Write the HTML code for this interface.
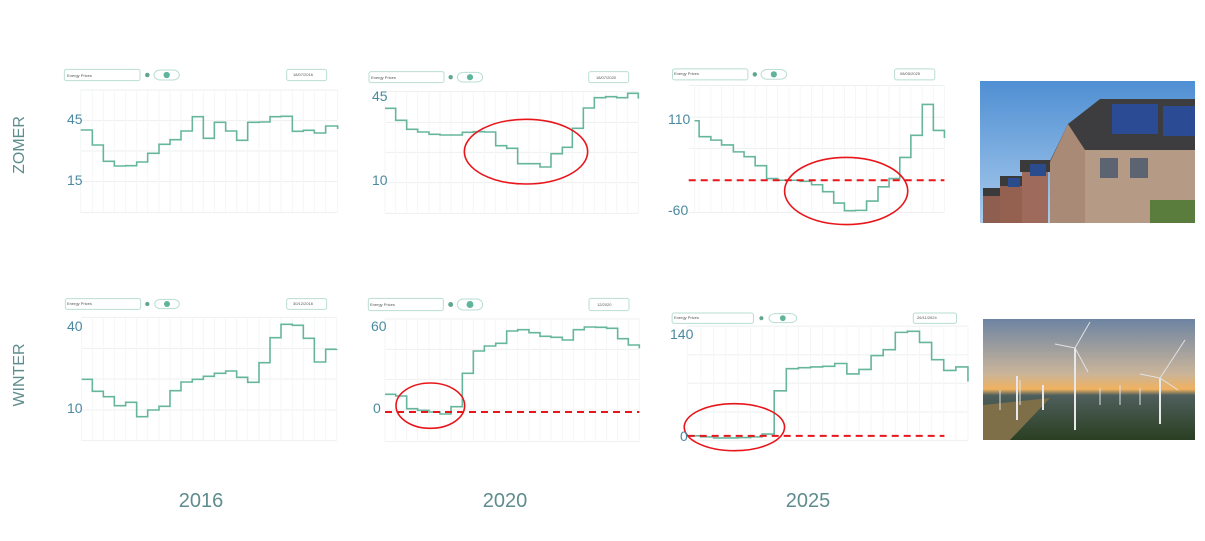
<!DOCTYPE html>
<html><head><meta charset="utf-8"><style>
html,body{margin:0;padding:0;background:#fff;width:1205px;height:541px;overflow:hidden}
svg{position:absolute;left:0;top:0}
text{font-family:"Liberation Sans",sans-serif}
</style></head><body>
<svg id="s" width="1205" height="541" viewBox="0 0 1205 541" xmlns="http://www.w3.org/2000/svg">
<defs>
<linearGradient id="sky" x1="0" y1="0" x2="0" y2="1"><stop offset="0" stop-color="#4f8fd3"/><stop offset="1" stop-color="#a9cbec"/></linearGradient>
<linearGradient id="sun" x1="0" y1="0" x2="0" y2="1"><stop offset="0" stop-color="#6d84a2"/><stop offset="0.45" stop-color="#c9b49a"/><stop offset="0.58" stop-color="#f1b25f"/><stop offset="0.63" stop-color="#4f5f5c"/><stop offset="1" stop-color="#2a3f22"/></linearGradient>
</defs>
<g id="charts"></g>
<text x="24" y="145" transform="rotate(-90 24 145)" text-anchor="middle" font-size="16" fill="#5f8c8e">ZOMER</text>
<text x="24" y="375" transform="rotate(-90 24 375)" text-anchor="middle" font-size="16" fill="#5f8c8e">WINTER</text>
<text x="201" y="507" text-anchor="middle" font-size="20" fill="#5f8c8e">2016</text>
<text x="505" y="507" text-anchor="middle" font-size="20" fill="#5f8c8e">2020</text>
<text x="808" y="507" text-anchor="middle" font-size="20" fill="#5f8c8e">2025</text>
<g font-size="14" fill="#4a8aa0">
<text x="67" y="124">45</text><text x="67" y="185">15</text>
<text x="372" y="101">45</text><text x="372" y="185">10</text>
<text x="668" y="124">110</text><text x="668" y="215">-60</text>
<text x="67" y="331">40</text><text x="67" y="413">10</text>
<text x="371" y="331">60</text><text x="373" y="413">0</text>
<text x="670" y="339">140</text><text x="680" y="441">0</text>
</g>
<g font-size="4" fill="#555">
<text x="67" y="77">Energy Prices</text><text x="293" y="76">18/07/2016</text>
<text x="371" y="79">Energy Prices</text><text x="596" y="79">18/07/2020</text>
<text x="674" y="75">Energy Prices</text><text x="900" y="75">08/05/2025</text>
<text x="67" y="305">Energy Prices</text><text x="293" y="305">30/12/2016</text>
<text x="370" y="306">Energy Prices</text><text x="597" y="306">12/2020</text>
<text x="674" y="319">Energy Prices</text><text x="917" y="319">26/11/2024</text>
</g>
<!-- solar photo -->
<g>
<rect x="980" y="81" width="215" height="142" fill="url(#sky)"/>
<polygon points="1050,223 1050,160 1075,125 1195,125 1195,223" fill="#b59a86"/>
<polygon points="1048,165 1068,124 1100,99 1195,99 1195,150 1085,150 1060,168" fill="#3d3d3f"/>
<polygon points="1068,124 1085,150 1085,223 1050,223 1050,162" fill="#a98a76"/>
<rect x="1112" y="104" width="46" height="30" fill="#2b4b95"/>
<rect x="1163" y="106" width="32" height="30" fill="#2b4b95"/>
<rect x="1100" y="158" width="18" height="20" fill="#5b6470"/><rect x="1130" y="158" width="18" height="20" fill="#5b6470"/>
<polygon points="1022,223 1022,165 1048,165 1048,223" fill="#9e6a5b"/>
<rect x="1020" y="160" width="30" height="12" fill="#3a3a3a"/>
<rect x="1030" y="164" width="16" height="12" fill="#2a4c8c"/>
<rect x="1000" y="180" width="22" height="43" fill="#94604f"/>
<rect x="1000" y="176" width="22" height="10" fill="#3a3a3a"/>
<rect x="1008" y="178" width="12" height="9" fill="#2a4c8c"/>
<rect x="983" y="192" width="17" height="31" fill="#8e5e50"/>
<rect x="983" y="188" width="17" height="8" fill="#3a3a3a"/>
<rect x="1150" y="200" width="45" height="23" fill="#5a7d3e"/>
</g>
<!-- wind photo -->
<g>
<rect x="983" y="319" width="212" height="121" fill="url(#sun)"/>
<polygon points="983,405 1050,398 1010,440 983,440" fill="#7e6f48"/>
<g stroke="#e8e8ea" stroke-width="2">
<line x1="1075" y1="348" x2="1075" y2="430"/><line x1="1160" y1="378" x2="1160" y2="424"/>
<line x1="1017" y1="376" x2="1017" y2="420"/><line x1="1043" y1="385" x2="1043" y2="410"/>
</g>
<g stroke="#dfe2e6" stroke-width="1">
<line x1="1075" y1="348" x2="1055" y2="344"/><line x1="1075" y1="348" x2="1090" y2="322"/><line x1="1075" y1="348" x2="1088" y2="372"/>
<line x1="1160" y1="378" x2="1140" y2="374"/><line x1="1160" y1="378" x2="1185" y2="340"/><line x1="1160" y1="378" x2="1178" y2="390"/>
<line x1="1000" y1="390" x2="1000" y2="410"/><line x1="1020" y1="380" x2="1020" y2="405"/><line x1="1100" y1="388" x2="1100" y2="405"/><line x1="1120" y1="385" x2="1120" y2="405"/><line x1="1140" y1="388" x2="1140" y2="405"/>
</g>
</g>
</svg>
<script>
var NS="http://www.w3.org/2000/svg",G=document.getElementById("charts");
function el(p,t,a){var e=document.createElementNS(NS,t);for(var k in a)e.setAttribute(k,a[k]);p.appendChild(e);return e}
function chart(o){
 var g=el(G,"g",{transform:"translate("+o.ox+","+o.oy+") scale("+o.s+")"});
 var ns={"vector-effect":"non-scaling-stroke"};
 o.gy.forEach(function(y){el(g,"line",Object.assign({x1:o.x0,x2:o.x1,y1:y,y2:y,stroke:"#eef0f0","stroke-width":1},ns))});
 o.xs.forEach(function(x){el(g,"line",Object.assign({x1:x,x2:x,y1:o.gy[0],y2:o.gy[o.gy.length-1],stroke:"#f5f6f6","stroke-width":1},ns))});
 var t=o.tb;
 el(g,"rect",Object.assign({x:t[0],y:t[1],width:t[2]-t[0],height:t[3]-t[1],rx:6,fill:"#fff",stroke:"#b9ded3","stroke-width":1},ns));
 el(g,"circle",{cx:t[4],cy:(t[1]+t[3])/2,r:(t[3]-t[1])*0.2,fill:"#5fa88f"});
 el(g,"rect",Object.assign({x:t[5],y:t[1]+2,width:t[6]-t[5],height:t[3]-t[1]-4,rx:18,fill:"#fff",stroke:"#b9ded3","stroke-width":1},ns));
 el(g,"circle",{cx:(t[5]+t[6])/2,cy:(t[1]+t[3])/2,r:(t[3]-t[1])*0.28,fill:"#5fb49c"});
 el(g,"rect",Object.assign({x:t[7],y:t[1],width:t[8]-t[7],height:t[3]-t[1],rx:6,fill:"#fff",stroke:"#b9ded3","stroke-width":1},ns));
 var d="M"+o.xs[0]+" "+o.ys[0];
 for(var i=1;i<o.xs.length;i++){d+=" H"+o.xs[i]+" V"+o.ys[i];}
 el(g,"path",Object.assign({d:d,fill:"none",stroke:"#66b59d","stroke-width":1.6},ns));
 if(o.dash)el(g,"line",Object.assign({x1:o.dash[0],x2:o.dash[1],y1:o.dash[2],y2:o.dash[2],stroke:"#e8161b","stroke-width":2,"stroke-dasharray":"7 5"},ns));
 if(o.ell)el(g,"ellipse",Object.assign({cx:o.ell[0],cy:o.ell[1],rx:o.ell[2],ry:o.ell[3],fill:"none",stroke:"#e8161b","stroke-width":1.6},ns));
}
chart({ox:60,oy:60,s:1/3,x0:62,x1:833,gy:[90,182,273,365,458],
 xs:[62,97,130,163,197,230,263,297,330,363,397,430,463,497,530,563,597,630,663,697,730,763,797,833],
 ys:[210,255,304,318,317,306,280,253,239,213,170,235,187,213,241,187,186,170,169,214,211,219,198,207],
 tb:[13,28,240,62,262,282,358,680,800]});
chart({ox:360,oy:60,s:1/3,x0:75,x1:835,gy:[95,187,277,368,460],
 xs:[75,107,140,173,207,240,273,307,340,373,407,440,473,507,540,573,607,637,670,703,737,770,803,835],
 ys:[145,181,208,216,223,225,225,217,215,216,257,265,311,311,321,281,262,205,144,113,110,113,100,116],
 tb:[27,35,252,68,272,292,368,686,806],ell:[498,275,185,97]});
chart({ox:660,oy:55,s:1/2.89,x0:83,x1:822,gy:[88,180,270,362,455],
 xs:[100,113,147,178,212,243,275,308,340,373,405,438,470,502,533,565,597,630,662,693,725,758,790,822],
 ys:[190,236,246,260,280,294,320,357,362,362,365,375,395,428,450,449,422,381,357,296,232,143,218,240],
 tb:[36,40,254,72,274,292,366,678,794],dash:[83,822,362],ell:[538,393,178,97]});
chart({ox:60,oy:290,s:1/3,x0:65,x1:830,gy:[82,175,267,360,452],
 xs:[65,97,130,163,197,230,263,297,330,363,397,430,463,497,530,563,597,630,663,697,730,763,797,830],
 ys:[268,304,320,347,337,380,360,349,302,276,268,259,250,243,262,277,218,143,103,106,145,216,178,177],
 tb:[16,26,242,58,262,284,358,680,800]});
chart({ox:360,oy:290,s:1/3,x0:75,x1:838,gy:[87,178,268,360,455],
 xs:[75,107,140,173,207,240,273,307,340,373,407,440,473,507,540,573,607,640,673,707,740,773,805,838],
 ys:[313,318,356,361,366,372,350,250,183,168,160,123,119,128,139,142,150,119,111,112,115,146,165,175],
 tb:[25,25,250,62,272,292,368,687,807],dash:[75,838,366],ell:[211,347,103,68]});
chart({ox:660,oy:295,s:1/2.89,x0:80,x1:890,gy:[90,173,255,338,420],
 xs:[80,118,155,190,225,262,295,330,365,400,435,470,505,540,575,610,645,680,715,750,785,820,855,890],
 ys:[407,410,413,413,412,410,402,277,213,210,208,206,198,228,215,175,158,108,105,137,187,218,208,250],
 tb:[35,52,270,82,293,315,395,732,857],dash:[80,822,407],ell:[215,382,145,68]});
</script>
</body></html>
